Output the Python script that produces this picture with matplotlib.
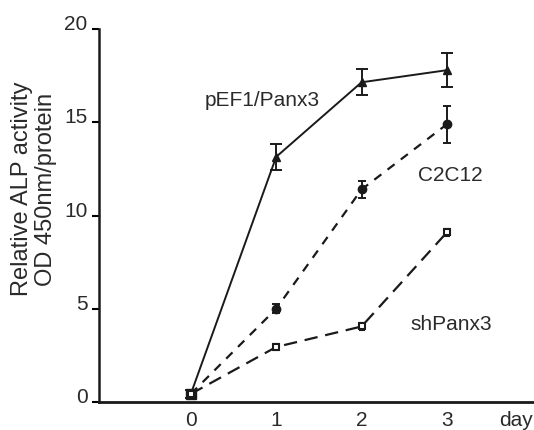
import matplotlib.pyplot as plt
import matplotlib.transforms as mtransforms

# Relative ALP activity
days = [0, 1, 2, 3]
pef1 = [0.43, 13.15, 17.15, 17.8]
pef1_err = [0.2, 0.7, 0.7, 0.9]
c2c12 = [0.43, 5.0, 11.4, 14.9]
c2c12_err = [0.2, 0.25, 0.45, 1.0]
shpanx3 = [0.43, 2.95, 4.05, 9.1]
shpanx3_err = [0.15, 0.15, 0.2, 0.2]

ytick_vals = [0, 5, 10, 15, 20]

plt.rcParams['font.family'] = ['Liberation Sans', 'DejaVu Sans']

fig = plt.figure(figsize=(5.34, 4.31), dpi=100)
ax = fig.add_axes([0.185, 0.065, 0.815, 0.865])

ink = '#1a1a1a'
txt = '#2a2a2a'
fs = 15

# pEF1/Panx3 - solid line, filled triangles
ax.errorbar(days, pef1, yerr=pef1_err, color=ink, lw=1.4, marker='^',
            ms=6, capsize=4, elinewidth=1.4, capthick=1.4)
# C2C12 - short dashes, filled circles
ax.errorbar(days, c2c12, yerr=c2c12_err, color=ink, lw=1.6, marker='o',
            ms=6, capsize=3, elinewidth=1.4, capthick=1.4, ls=(0, (4, 3.5)))
# shPanx3 - longer dashes, open squares
ax.errorbar(days, shpanx3, yerr=shpanx3_err, color=ink, lw=1.6, marker='s',
            ms=5, mfc='white', mew=1.5, capsize=2, elinewidth=1.2,
            ls=(0, (6, 3.5)))
# day 0 blob
ax.plot([0], [0.43], marker='s', ms=7, color=ink, ls='none')

# series labels
ax.text(0.84, 16.25, 'pEF1/Panx3', fontsize=fs, color=txt, ha='center', va='center')
ax.text(3.04, 12.2, 'C2C12', fontsize=fs, color=txt, ha='center', va='center')
ax.text(3.05, 4.2, 'shPanx3', fontsize=fs, color=txt, ha='center', va='center')

ax.set_xlim(-1.078, 4.02)
ax.set_ylim(0, 20)
ax.set_yticks(ytick_vals)
ax.set_yticklabels([str(v) for v in ytick_vals], fontsize=fs, color=txt)
for lab in ax.get_yticklabels():
    lab.set_va('baseline')
ax.set_xticks(days)
ax.set_xticklabels(['0', '1', '2', '3'], fontsize=fs, color=txt)
ax.tick_params(axis='x', length=0, pad=6)
ax.tick_params(axis='y', length=5, width=1.5, direction='out', pad=3)

# "day" unit label at the right end of the x axis
day_tr = mtransforms.offset_copy(ax.transAxes, fig=fig, x=0, y=-6, units='points')
ax.text(0.997, 0, 'day', transform=day_tr, ha='right', va='top',
        fontsize=fs, color=txt)

ax.spines['top'].set_visible(False)
ax.spines['right'].set_visible(False)
ax.spines['left'].set_linewidth(1.8)
ax.spines['bottom'].set_linewidth(2.0)
ax.spines['left'].set_color(ink)
ax.spines['bottom'].set_color(ink)

# y label sits a bit above the axis middle in the original
fig.text(34 / 534, 1 - 189 / 431, 'Relative ALP activity\nOD 450nm/protein',
         rotation=90, ha='center', va='center', fontsize=17, color=txt,
         linespacing=1.15)

fig.savefig('out.png', dpi=100)
